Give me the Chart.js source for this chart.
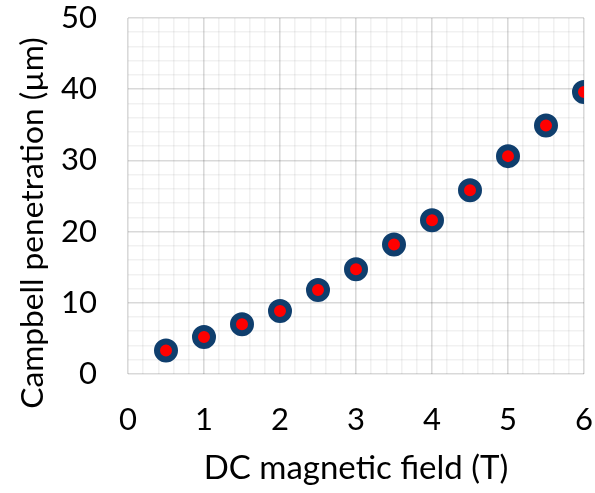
<!DOCTYPE html>
<html>
<head>
<meta charset="utf-8">
<script src="https://cdn.jsdelivr.net/npm/chart.js@4/dist/chart.umd.min.js"></script>
<style>
  html, body { margin: 0; padding: 0; background: #fff; }
  #wrap { position: relative; width: 595px; height: 493px; overflow: hidden; }
</style>
</head>
<body>
<div id="wrap"><canvas id="grafico" width="599" height="493"></canvas></div>
<script>
// Campo DC (T) e penetração de Campbell (µm)
const campo = [0.5, 1, 1.5, 2, 2.5, 3, 3.5, 4, 4.5, 5, 5.5, 6];
const penetracao = [3.3, 5.2, 7.0, 8.85, 11.8, 14.7, 18.2, 21.6, 25.8, 30.6, 34.9, 39.6];

const tituloX = 'DC magnetic field (T)';
const tituloY = 'Campbell penetration (µm)';

const fonte = 'Lato, "Open Sans", sans-serif';
const corGradeMaior = 'rgba(0,0,0,0.15)';
const corGradeMenor = 'rgba(0,0,0,0.055)';

function ehInteiro(v, passo) {
    const q = v / passo;
    return Math.abs(q - Math.round(q)) < 1e-6;
}

// Títulos dos eixos desenhados à mão para posicioná-los
const titulosEixos = {
    id: 'titulosEixos',
    afterDraw(chart) {
        const ctx = chart.ctx;
        const area = chart.chartArea;
        ctx.save();
        ctx.fillStyle = '#000';
        ctx.textAlign = 'center';
        ctx.textBaseline = 'alphabetic';
        ctx.font = '33px ' + fonte;
        ctx.fillText(tituloX, (area.left + area.right) / 2, 479);
        ctx.font = '31.7px ' + fonte;
        ctx.translate(43, 223);
        ctx.rotate(-Math.PI / 2);
        ctx.fillText(tituloY, 0, 0);
        ctx.restore();
    }
};

const pontos = campo.map((x, i) => ({ x: x, y: penetracao[i] }));

const chart = new Chart(document.getElementById('grafico').getContext('2d'), {
    type: 'scatter',
    data: {
        datasets: [{
            data: pontos,
            backgroundColor: '#ff0000',
            borderColor: '#0f3e6d',
            borderWidth: 6,
            pointRadius: 9,
            pointHoverRadius: 9
        }]
    },
    options: {
        responsive: false,
        animation: false,
        layout: { padding: { top: 18, right: 11, left: 0, bottom: 0 } },
        plugins: {
            legend: { display: false },
            tooltip: { enabled: false }
        },
        scales: {
            x: {
                min: 0,
                max: 6,
                border: { display: false },
                grid: {
                    drawTicks: false,
                    lineWidth: 1.6,
                    color: c => ehInteiro(c.tick.value, 1) ? corGradeMaior : corGradeMenor
                },
                ticks: {
                    stepSize: 0.2,
                    autoSkip: false,
                    maxRotation: 0,
                    padding: 30,
                    color: '#000',
                    font: { family: fonte, size: 31, lineHeight: 1 },
                    callback: v => ehInteiro(v, 1) ? String(Math.round(v)) : ''
                },
                afterFit: s => {
                    s.height = 493 - 374;
                    s.paddingLeft = 0;
                    s.paddingRight = 0;
                }
            },
            y: {
                min: 0,
                max: 50,
                border: { display: false },
                grid: {
                    drawTicks: false,
                    lineWidth: 1.6,
                    color: c => ehInteiro(c.tick.value, 10) ? corGradeMaior : corGradeMenor
                },
                ticks: {
                    stepSize: 2,
                    autoSkip: false,
                    padding: 31,
                    color: '#000',
                    font: { family: fonte, size: 31, lineHeight: 1 },
                    callback: v => ehInteiro(v, 10) ? String(Math.round(v)) : ''
                },
                afterFit: s => {
                    s.width = 128;
                    s.paddingTop = 0;
                    s.paddingBottom = 0;
                }
            }
        }
    },
    plugins: [titulosEixos]
});
</script>
</body>
</html>
